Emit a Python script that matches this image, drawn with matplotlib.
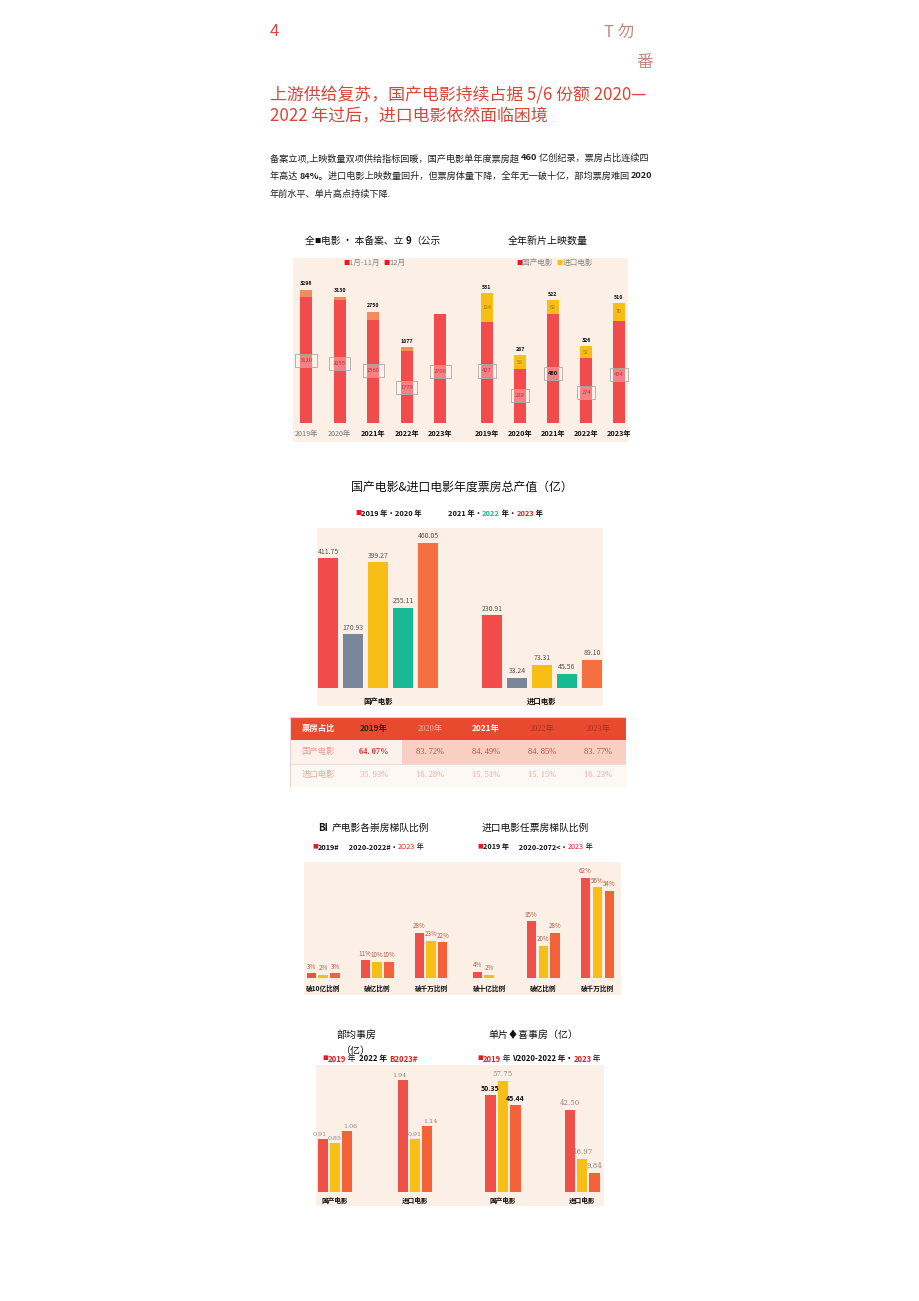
import matplotlib
matplotlib.use('Agg')
import matplotlib.pyplot as plt
from matplotlib.patches import Rectangle
import numpy as np

plt.rcParams['font.family'] = ['Noto Sans CJK SC', 'DejaVu Sans']

# ---- data ----
years = ['2019年', '2020年', '2021年', '2022年', '2023年']
filing_total = [3296, 3130, 2750, 1877, 2708]
filing_jan_nov = [3120, 3055, 2560, 1779, 2708]
filing_total_labels = ['3296', '3130', '2750', '1877', '']

release_domestic = [427, 229, 460, 274, 434]
release_import = [124, 58, 62, 52, 76]

bo_groups = ['国产电影', '进口电影']
bo_domestic = [411.75, 170.93, 399.27, 255.11, 460.05]
bo_import = [230.91, 33.24, 73.31, 45.56, 89.10]

share_header = ['票房占比', '2019年', '2020年', '2021年', '2022年', '2023年']
share_domestic = ['64. 07%', '83. 72%', '84. 49%', '84. 85%', '83. 77%']
share_import = ['35. 93%', '16. 28%', '15. 51%', '15. 15%', '16. 23%']

tiers_dom = ['破10亿比例', '破亿比例', '破千万比例']
dom_2019 = [3, 11, 28]
dom_mid = [2, 10, 23]
dom_2023 = [3, 10, 22]
tiers_imp = ['破十亿比例', '破亿比例', '破千万比例']
imp_2019 = [4, 35, 62]
imp_mid = [2, 20, 56]
imp_2023 = [np.nan, 28, 54]

avg_2019 = [0.91, 1.94]
avg_2022 = [0.85, 0.91]
avg_2023 = [1.06, 1.14]

top_2019 = [50.35, 42.50]
top_mid = [57.75, 16.97]
top_2023 = [45.44, 9.84]

# ---- colours ----
RED = '#F24B4B'
ORANGE = '#F6703F'
YELLOW = '#F9BE16'
GREY = '#7A869A'
TEAL = '#17B993'
PANEL = '#FBEFE6'
TITLE_RED = '#D9453A'

W, H = 920, 1301
fig = plt.figure(figsize=(W / 100, H / 100), dpi=100)
fig.patch.set_facecolor('white')
renderer = fig.canvas.get_renderer()


def px_axes(x0, y0, x1, y1):
    ax = fig.add_axes([x0 / W, 1 - y1 / H, (x1 - x0) / W, (y1 - y0) / H])
    ax.set_facecolor('none')
    for s in ax.spines.values():
        s.set_visible(False)
    ax.set_yticks([])
    ax.tick_params(axis='x', length=0)
    return ax


def panel(x0, y0, x1, y1, color=PANEL):
    fig.patches.append(Rectangle((x0 / W, 1 - y1 / H), (x1 - x0) / W, (y1 - y0) / H,
                                 transform=fig.transFigure, facecolor=color,
                                 edgecolor='none', zorder=-5))


def ftext(x, y, s, **kw):
    kw.setdefault('va', 'center')
    return fig.text(x / W, 1 - y / H, s, **kw)


def rich(x, y, pieces, size, ha='left'):
    # pieces: (text, color, weight) or (text, color, weight, size)
    items = []
    cx = x
    for p in pieces:
        s, color, weight = p[:3]
        fs = p[3] if len(p) > 3 else size
        t = ftext(cx, y, s, color=color, fontsize=fs, fontweight=weight, ha='left')
        w = t.get_window_extent(renderer).width
        items.append(t)
        cx += w
    if ha == 'center':
        shift = (cx - x) / 2
        for t in items:
            px, py = t.get_position()
            t.set_position((px - shift / W, py))
    return items


# ---- header ----
ftext(270, 32, '4', color=TITLE_RED, fontsize=12)
ftext(604, 32, 'T 勿', color='#C28A7E', fontsize=12)
ftext(636, 63, '番', color='#C28A7E', fontsize=12)
ftext(270, 95, '上游供给复苏，国产电影持续占据 5/6 份额 2020—', color=TITLE_RED, fontsize=12.2)
ftext(270, 116, '2022 年过后，进口电影依然面临困境', color=TITLE_RED, fontsize=12.2)

body = '#222222'
rich(270, 158, [('备案立项,上映数量双项供给指标回暖，国产电影单年度票房超 ', body, 'normal'),
                ('460', body, 'bold'),
                (' 亿创纪录，票房占比连续四', body, 'normal')], 6.6)
rich(270, 176, [('年高达 ', body, 'normal'), ('84%。', body, 'bold'),
                ('进口电影上映数量回升，但票房体量下降，全年无一破十亿，部均票房难回 ', body, 'normal'),
                ('2020', body, 'bold')], 6.6)
ftext(270, 194, '年前水平、单片高点持续下降.', color=body, fontsize=6.6)

# ---- chart 1: filings & releases ----
rich(305, 241, [('全', '#111', 'normal'), ('■', '#111', 'normal', 4.5),
                ('电影 · 本备案、立 ', '#111', 'normal'), ('9', '#111', 'bold'),
                ('（公示', '#111', 'normal')], 7.0)
ftext(548, 241, '全年新片上映数量', color='#111', fontsize=7.2, ha='center')
panel(293, 258, 628, 442)

ax = px_axes(293, 258, 462, 423)
x = np.arange(len(years))
dec = np.array(filing_total) - np.array(filing_jan_nov)
ax.bar(x, filing_jan_nov, width=0.36, color=RED)
ax.bar(x, dec, bottom=filing_jan_nov, width=0.36, color='#F58A5E')
ax.set_xlim(-0.39, 4.65)
ax.set_ylim(0, 4090)
for i in range(len(years)):
    if filing_total_labels[i]:
        ax.text(x[i], filing_total[i] + 90, filing_total_labels[i], ha='center', va='bottom',
                fontsize=3.8, fontweight='bold', color='#111')
    ax.text(x[i], filing_total[i] * 0.47, str(filing_jan_nov[i]), ha='center', va='center',
            fontsize=4.2, color='#C0304A',
            bbox=dict(boxstyle='square,pad=0.7', fc=(1, 1, 1, 0.3), ec='#AAAAAA', lw=0.6))
ax.set_xticks(x, years)
ax.tick_params(axis='x', pad=5)
for i, t in enumerate(ax.get_xticklabels()):
    t.set_fontsize(5.2)
    if i < 2:
        t.set_color('#777')
    else:
        t.set_fontweight('bold')
        t.set_color('#111')
rich(343, 263, [('■', '#E02020', 'normal', 4.5), ('1月-11月  ', '#888', 'normal'),
                ('■', '#E02020', 'normal', 4.5), ('12月', '#888', 'normal')], 5.5)

ax = px_axes(462, 258, 628, 423)
ax.bar(x, release_domestic, width=0.36, color=RED)
ax.bar(x, release_import, bottom=release_domestic, width=0.36, color=YELLOW)
ax.set_xlim(-0.76, 4.27)
ax.set_ylim(0, 699)
for i in range(len(years)):
    tot = release_domestic[i] + release_import[i]
    ax.text(x[i], tot + 12, str(tot), ha='center', va='bottom', fontsize=3.8,
            fontweight='bold', color='#111')
    ax.text(x[i], release_domestic[i] + release_import[i] / 2, str(release_import[i]),
            ha='center', va='center', fontsize=3.8, color='#A07818')
    ax.text(x[i], tot * 0.4, str(release_domestic[i]), ha='center', va='center',
            fontsize=4.2, color='#111' if i == 2 else '#C0304A',
            fontweight='bold' if i == 2 else 'normal',
            bbox=dict(boxstyle='square,pad=0.7', fc=(1, 1, 1, 0.3), ec='#AAAAAA', lw=0.6))
ax.set_xticks(x, years)
ax.tick_params(axis='x', pad=5)
for t in ax.get_xticklabels():
    t.set_fontsize(5.2)
    t.set_fontweight('bold')
    t.set_color('#111')
rich(516, 263, [('■', '#E02020', 'normal', 4.5), ('国产电影  ', '#888', 'normal'),
                ('■', YELLOW, 'normal', 4.5), ('进口电影', '#888', 'normal')], 5.5)

# ---- chart 2: box office ----
ftext(462, 487, '国产电影&进口电影年度票房总产值（亿）', color='#111', fontsize=8.6, ha='center')
rich(355, 513, [('■', '#E02020', 'normal', 4.5), ('2019 年·2020 年', '#111', 'bold')], 5.3)
rich(448, 513, [('2021 年·', '#111', 'bold'), ('2022', TEAL, 'bold'), (' 年·', '#111', 'bold'),
                ('2023', '#E02020', 'bold'), (' 年', '#111', 'bold')], 5.3)
panel(317, 528, 603, 706)
ax = px_axes(317, 528, 603, 688)
colors5 = [RED, GREY, YELLOW, TEAL, ORANGE]
g = np.arange(len(bo_groups))
for k in range(5):
    vals = [bo_domestic[k], bo_import[k]]
    xs = g + (k - 2) * 0.1524
    ax.bar(xs, vals, width=0.122, color=colors5[k])
    for xx, v in zip(xs, vals):
        ax.text(xx, v + 8, f'{v:.2f}', ha='center', va='bottom', fontsize=5, color='#555')
ax.set_xlim(-0.372, 1.372)
ax.set_ylim(0, 507.6)
ax.set_xticks(g, bo_groups)
ax.tick_params(axis='x', pad=7)
for t in ax.get_xticklabels():
    t.set_fontsize(5.3)
    t.set_fontweight('bold')
    t.set_color('#111')

# ---- share table ----
tab = px_axes(290, 717, 626, 787)
tab.set_xticks([])
tab.set_xlim(0, 6)
tab.set_ylim(0, 3)
tab.invert_yaxis()
tab.add_patch(Rectangle((0, 0), 6, 1, facecolor='#E84A2F', edgecolor='none'))
tab.add_patch(Rectangle((0, 1), 2, 1, facecolor='#FDF1EC', edgecolor='none'))
tab.add_patch(Rectangle((2, 1), 4, 1, facecolor='#F9CFC3', edgecolor='none'))
tab.add_patch(Rectangle((0, 2), 6, 1, facecolor='#FEF8F5', edgecolor='none'))
tab.plot([0, 6], [2, 2], color='#E9D6D0', lw=0.6)
tab.plot([0, 6, 6, 0, 0], [0, 0, 3, 3, 0], color='#E5D5D0', lw=0.8)
head_style = [('white', 'bold', 'sans'), ('#3A1A10', 'bold', 'sans'), ('#F6B7A6', 'normal', 'serif'),
              ('white', 'bold', 'sans'), ('#A8321E', 'normal', 'serif'), ('#A8321E', 'normal', 'serif')]
serif = ['Liberation Serif', 'Noto Sans CJK SC']
for j, h in enumerate(share_header):
    c, w, f = head_style[j]
    tab.text(j + 0.5, 0.5, h, ha='center', va='center', fontsize=6, color=c, fontweight=w,
             family=serif if f == 'serif' else None)
tab.text(0.5, 1.5, '国产电影', ha='center', va='center', fontsize=6, color='#E3A090', family=serif)
tab.text(0.5, 2.5, '进口电影', ha='center', va='center', fontsize=6, color='#E8AA98', family=serif)
for j in range(5):
    if j == 0:
        tab.text(j + 1.5, 1.5, share_domestic[j], ha='center', va='center', fontsize=6,
                 color='#D9302A', fontweight='bold', family=serif)
    else:
        tab.text(j + 1.5, 1.5, share_domestic[j], ha='center', va='center', fontsize=6,
                 color='#B5503A', family=serif)
    tab.text(j + 1.5, 2.5, share_import[j], ha='center', va='center', fontsize=6,
             color='#E8A896', family=serif)

# ---- chart 3: tiers ----
C19 = '#F0504A'
C23 = '#F4623A'
ftext(318, 828, 'BI', color='#111', fontsize=7, fontweight='bold')
ftext(332, 828, '产电影各崇房梯队比例', color='#111', fontsize=7)
rich(312, 847, [('■', '#E02020', 'normal', 4.2), ('2019#', '#111', 'bold'),
                ('      2020-2022#·', '#111', 'bold'), ('2O23', '#E02020', 'normal'),
                (' 年', '#111', 'normal')], 5.2)
ftext(482, 828, '进口电影任票房梯队比例', color='#111', fontsize=7)
rich(477, 847, [('■', '#E02020', 'normal', 4.2), ('2019 年', '#111', 'bold'),
                ('      2020-2072<·', '#111', 'bold'), ('2023', '#E02020', 'normal'),
                (' 年', '#111', 'normal')], 5.2)
panel(304, 862, 621, 995)


def tier_chart(ax, labels, a, b, c):
    xs = np.arange(len(labels))
    for k, (vals, col) in enumerate([(a, C19), (b, YELLOW), (c, C23)]):
        xx = xs + (k - 1) * 0.222
        ax.bar(xx, vals, width=0.167, color=col)
        for px_, v in zip(xx, vals):
            if not np.isnan(v):
                ax.text(px_, v + 1.5, f'{v:g}%', ha='center', va='bottom', fontsize=4.5,
                        color='#B0604A')
    ax.set_ylim(0, 71.6)
    ax.set_xticks(xs, labels)
    ax.tick_params(axis='x', pad=5)
    for t in ax.get_xticklabels():
        t.set_fontsize(4.8)
        t.set_fontweight('bold')
        t.set_color('#111')


ax = px_axes(304, 862, 460, 978)
tier_chart(ax, tiers_dom, np.array(dom_2019, float), np.array(dom_mid, float), np.array(dom_2023, float))
ax.set_xlim(-0.352, 2.537)
ax = px_axes(460, 862, 621, 978)
tier_chart(ax, tiers_imp, np.array(imp_2019, float), np.array(imp_mid, float), np.array(imp_2023, float))
ax.set_xlim(-0.537, 2.444)

# ---- chart 4 & 5 ----
ftext(337, 1035, '部均事房', color='#111', fontsize=7.2)
ftext(340, 1051, '（亿）', color='#111', fontsize=7.2)
rich(322, 1059, [('■', '#E02020', 'bold', 4.2), ('2019', '#E02020', 'bold'), (' 年  ', '#111', 'normal'),
                 ('2022 年 ', '#111', 'bold'), ('B2023#', '#E02020', 'bold')], 5.6)
ftext(533, 1035, '单片♦喜事房（亿）', color='#111', fontsize=7.2, ha='center',
      family=['Noto Sans CJK SC', 'DejaVu Sans'])
rich(477, 1059, [('■', '#E02020', 'bold', 4.2), ('2019', '#E02020', 'bold'), (' 年 ', '#111', 'normal'),
                 ('V2020-2022 年·', '#111', 'bold'), ('2023', '#E02020', 'bold'),
                 (' 年', '#111', 'normal')], 5.5)
panel(316, 1065, 604, 1206)

ax = px_axes(316, 1065, 460, 1192)
gx = np.arange(len(bo_groups))
shift = [-0.04, 0.0, 0.03]
for k, (vals, col) in enumerate([(avg_2019, C19), (avg_2022, YELLOW), (avg_2023, C23)]):
    xx = gx + (k - 1) * 0.156
    ax.bar(xx, vals, width=0.125, color=col)
    for px_, v in zip(xx, vals):
        ax.text(px_ + shift[k], v + 0.04, f'{v:.2f}', ha='center', va='bottom', fontsize=4.6,
                color='#8A8A8A', family='DejaVu Serif')
ax.set_xlim(-0.2375, 1.5625)
ax.set_ylim(0, 2.2)
ax.set_xticks(gx, bo_groups)
ax.tick_params(axis='x', pad=3.5)
for t in ax.get_xticklabels():
    t.set_fontsize(4.8)
    t.set_fontweight('bold')
    t.set_color('#111')

ax = px_axes(460, 1065, 604, 1192)
bold_lbl = [[True, False], [False, False], [True, False]]
for k, (vals, col) in enumerate([(top_2019, C19), (top_mid, YELLOW), (top_2023, C23)]):
    xx = gx + (k - 1) * 0.158
    ax.bar(xx, vals, width=0.127, color=col)
    for i, (px_, v) in enumerate(zip(xx, vals)):
        if bold_lbl[k][i]:
            ax.text(px_, v + 1.5, f'{v:.2f}', ha='center', va='bottom', fontsize=5,
                    color='#111', fontweight='bold')
        else:
            ax.text(px_, v + 1.5, f'{v:.2f}', ha='center', va='bottom', fontsize=5,
                    color='#8A8A8A', family='DejaVu Serif')
ax.set_xlim(-0.544, 1.278)
ax.set_ylim(0, 66)
ax.set_xticks(gx, bo_groups)
ax.tick_params(axis='x', pad=3.5)
for t in ax.get_xticklabels():
    t.set_fontsize(4.8)
    t.set_fontweight('bold')
    t.set_color('#111')

fig.savefig('out.png', dpi=100)
plt.close(fig)
